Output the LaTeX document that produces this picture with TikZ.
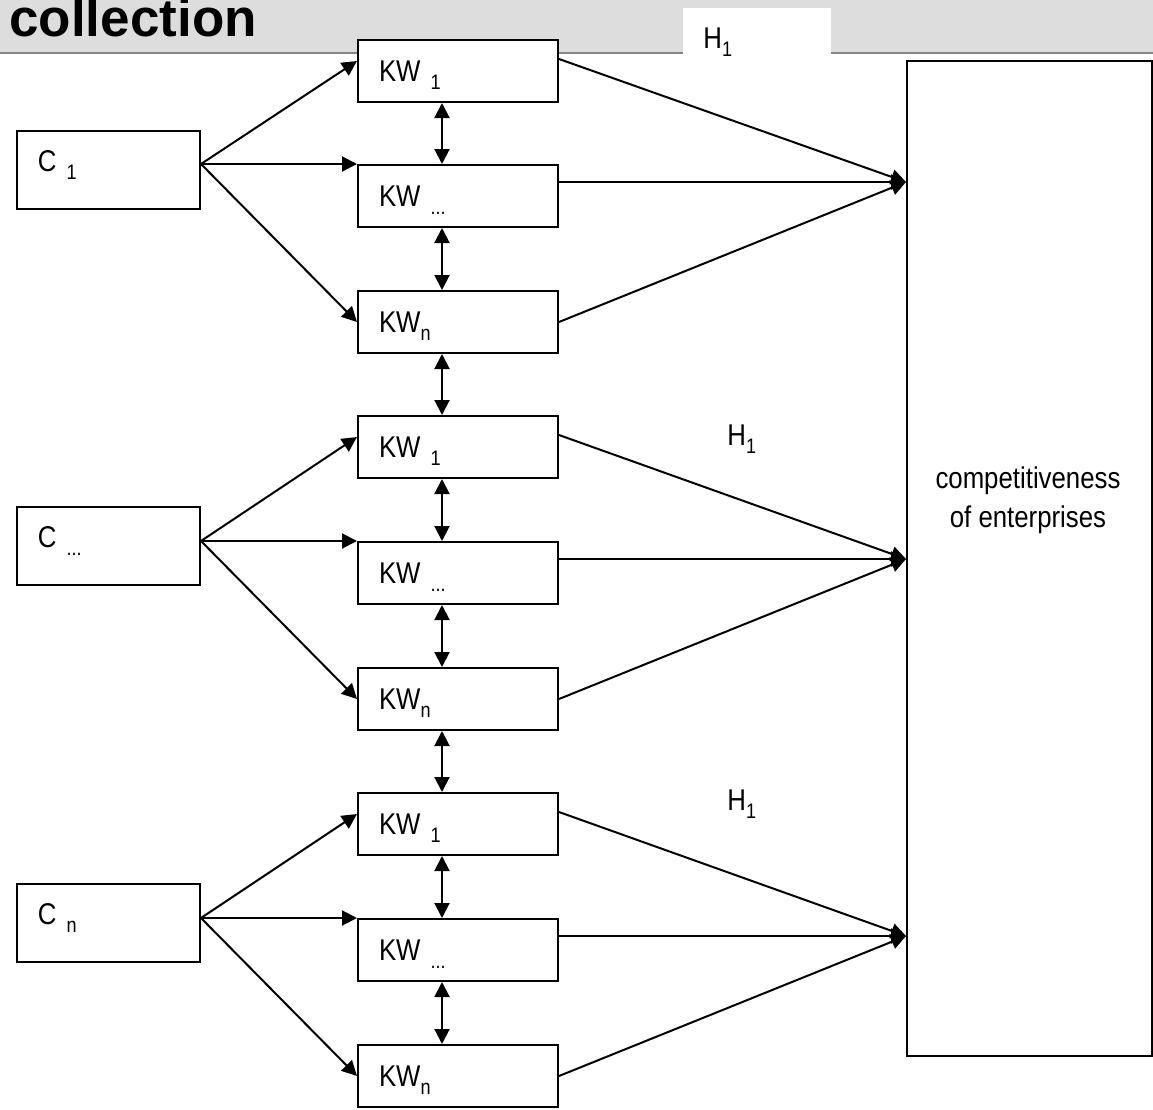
\documentclass[tikz,border=0pt]{standalone}
\usepackage{fontspec}
\setmainfont{Liberation Sans}[FakeStretch=0.86]
\newfontfamily\titlefont{Liberation Sans}
\usetikzlibrary{arrows.meta,calc}
\newcommand{\sbs}[1]{\raisebox{-4pt}{\fontsize{10.5pt}{12pt}\selectfont #1}}
\definecolor{bandgray}{HTML}{DDDDDD}
\definecolor{bandline}{HTML}{858585}
\begin{document}
\begin{tikzpicture}[x=0.5pt,y=-0.5pt,
  every node/.style={font=\fontsize{15pt}{19.5pt}\selectfont},
  kwbox/.style={draw, line width=1pt, fill=white, rectangle, anchor=north west,
    minimum width=100pt, minimum height=31pt, inner xsep=10.5pt, inner ysep=0pt,
    text width=79pt, align=left, text height=10.75pt, text depth=0pt},
  cbox/.style={draw, line width=1pt, fill=white, rectangle, anchor=north west,
    minimum width=91.5pt, minimum height=39pt, inner xsep=10.5pt, inner ysep=0pt,
    text width=70.5pt, align=left, text height=10.75pt, text depth=9pt},
  bigbox/.style={draw, line width=1pt, fill=white, rectangle, anchor=north west,
    minimum width=122.5pt, minimum height=497.5pt, inner sep=0pt},
  lbl/.style={anchor=base west, inner sep=0pt},
  arr/.style={line width=1pt, -{Triangle[length=7.5pt,width=7.5pt]}},
  dbl/.style={line width=1pt, {Triangle[length=7.5pt,width=7.5pt]}-{Triangle[length=7.5pt,width=7.5pt]}}
]
\useasboundingbox (0,0) rectangle (1153,1110);
\clip (0,0) rectangle (1153,1110);
% header band
\fill[bandgray] (0,0) rectangle (1153,52);
\draw[bandline, line width=1pt] (0,53) -- (1153,53);
\fill[white] (683,8) rectangle (831,56);
\node[anchor=base west, inner sep=0pt, font={\titlefont\bfseries\fontsize{26.5pt}{30pt}\selectfont}] (title) at (9,36) {collection};
\node[lbl] (h1) at (703,48) {H\sbs{1}};
\node[lbl] (h2) at (727,445) {H\sbs{1}};
\node[lbl] (h3) at (727,810) {H\sbs{1}};

% big box
\node[bigbox] (comp) at (906,60) {};
\node[anchor=base, inner sep=0pt] (compa) at (1028,488) {competitiveness};
\node[anchor=base, inner sep=0pt] (compb) at (1028,527) {of enterprises};

% C boxes
\node[cbox] (c1) at (16,130) {C \sbs{1}};
\node[cbox] (c2) at (16,506) {C \sbs{...}};
\node[cbox] (c3) at (16,883) {C \sbs{n}};

% KW boxes
\node[kwbox] (k11) at (357,39) {KW \sbs{1}};
\node[kwbox] (k12) at (357,164) {KW \sbs{...}};
\node[kwbox] (k13) at (357,290) {KW\sbs{n}};
\node[kwbox] (k21) at (357,415) {KW \sbs{1}};
\node[kwbox] (k22) at (357,541) {KW \sbs{...}};
\node[kwbox] (k23) at (357,667) {KW\sbs{n}};
\node[kwbox] (k31) at (357,792) {KW \sbs{1}};
\node[kwbox] (k32) at (357,918) {KW \sbs{...}};
\node[kwbox] (k33) at (357,1044) {KW\sbs{n}};

\foreach \g in {1,2,3} {
  \coordinate (o\g) at (c\g.east |- k\g2.north west);
  \draw[arr] (o\g) -- ($(k\g1.north west)+(0,22)$);
  \draw[arr] (o\g) -- (k\g2.north west);
  \draw[arr] (o\g) -- (k\g3.west);
  \coordinate (b\g) at (k\g2.north west -| comp.west);
  \coordinate (t\g) at ($(b\g)+(0,18)$);
  \draw[arr] ($(k\g1.north east)+(0,20)$) -- (t\g);
  \draw[arr] ($(k\g2.north east)+(0,18)$) -- (t\g);
  \draw[arr] (k\g3.east) -- (t\g);
}
\foreach \a/\b in {11/12,12/13,13/21,21/22,22/23,23/31,31/32,32/33}
  \draw[dbl] ($(k\a.south west)+(85,0)$) -- ($(k\b.north west)+(85,0)$);
\end{tikzpicture}
\end{document}
